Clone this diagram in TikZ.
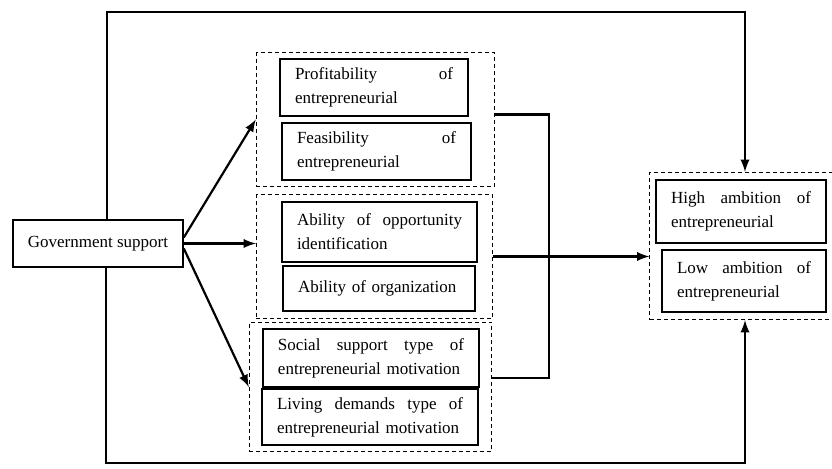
\documentclass[tikz,border=0pt]{standalone}
\usepackage{fontspec}
\setmainfont{Liberation Serif}
\usetikzlibrary{shapes,arrows}
\usetikzlibrary{fit}

\begin{document}
\begin{tikzpicture}[x=0.5pt, y=-0.5pt,
  box/.style={draw, line width=0.7pt, inner xsep=7.5pt, inner ysep=2pt,
    align=left, font=\fontsize{8.5}{12}\selectfont},
  grp/.style={draw, dash pattern=on 2pt off 1.5pt, line width=0.5pt},
  line/.style={line width=1.1pt},
  arrow/.style={line, -latex}]
  \useasboundingbox (0,0) rectangle (832,469);
  \node[box, minimum width=85pt, align=center, minimum height=23.5pt] (gov) at (98,243.5) {Government support};
  \node[box, text width=79pt, minimum height=28.5pt] (prof) at (374,87.5) {Profitability \hfill of\\entrepreneurial};
  \node[box, text width=79.5pt, minimum height=28.5pt] (feas) at (376.5,151.5) {Feasibility \hfill of\\entrepreneurial};
  \node[box, text width=82.5pt, minimum height=30pt] (opp) at (379.5,232) {Ability \hfill of \hfill opportunity\\identification};
  \node[box, text width=81pt, minimum height=22.5pt] (org) at (379,288.5) {Ability of organization};
  \node[box, text width=93pt, minimum height=29pt] (soc) at (371,358) {Social \hfill support \hfill type \hfill of\\entrepreneurial motivation};
  \node[box, text width=93pt, minimum height=28pt] (liv) at (370,417) {Living \hfill demands \hfill type \hfill of\\entrepreneurial motivation};
  \node[box, text width=70pt, minimum height=31.5pt] (high) at (741,211.5) {High \hfill ambition \hfill of\\entrepreneurial};
  \node[box, text width=67pt, minimum height=31pt] (low) at (744,281) {Low \hfill ambition \hfill of\\entrepreneurial};

  \node[grp, fit=(prof)(feas), inner xsep=11.5pt, inner ysep=2.75pt] (g1) {};
  \node[grp, fit=(opp)(org), inner xsep=10pt, inner ysep=3.25pt, xshift=-2.5pt] (g2) {};
  \node[grp, fit=(soc)(liv), inner xsep=6pt, inner ysep=3pt] (g3) {};
  \node[grp, fit=(high)(low), inner xsep=2.75pt, inner ysep=3.5pt] (gr) {};

  \coordinate (top) at (745,12);
  \coordinate (bot) at (745,463);
  \coordinate (bx) at (549,0);

  \draw[arrow] ([yshift=3pt]gov.east) -- (g1.west);
  \draw[arrow] (gov.east) -- (gov.east -| g2.west);
  \draw[arrow] ([yshift=-2.5pt]gov.east) -- (g3.west);

  \draw[line] ([yshift=2.5pt]g1.east) -| (bx |- g2.east);
  \draw[line] ([yshift=4.5pt]g3.east) -| (bx |- g2.east);
  \draw[line] (g2.east) -- (bx |- g2.east);
  \draw[arrow] (bx |- g2.east) -- (g2.east -| gr.west);

  \draw[arrow] ([xshift=4.5pt]gov.north) |- (top) -- (top |- gr.north);
  \draw[arrow] ([xshift=4pt]gov.south) |- (bot) -- (bot |- gr.south);
\end{tikzpicture}
\end{document}
